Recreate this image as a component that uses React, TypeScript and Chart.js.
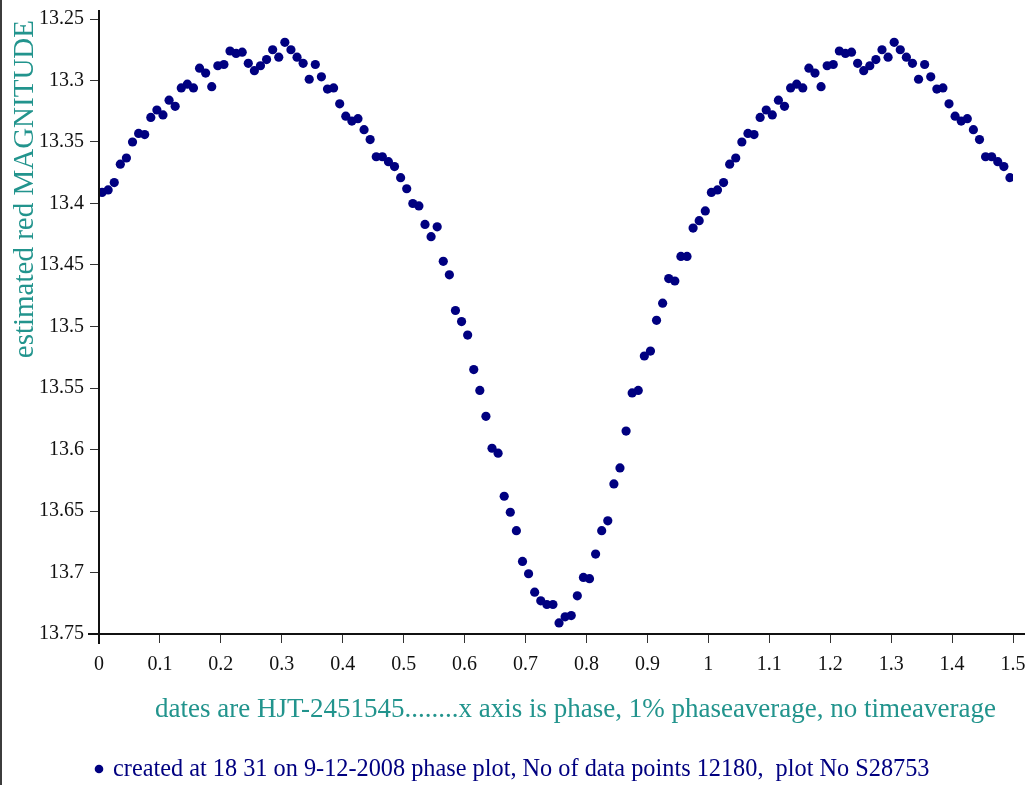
import React, { useEffect, useRef } from "react";
import { Chart, registerables } from "chart.js";

Chart.register(...registerables);

// Phase bin centres (1% phase average) for one full cycle
const PHASE = [
  0.005, 0.015, 0.025, 0.035, 0.045, 0.055, 0.065, 0.075, 0.085, 0.095,
  0.105, 0.115, 0.125, 0.135, 0.145, 0.155, 0.165, 0.175, 0.185, 0.195,
  0.205, 0.215, 0.225, 0.235, 0.245, 0.255, 0.265, 0.275, 0.285, 0.295,
  0.305, 0.315, 0.325, 0.335, 0.345, 0.355, 0.365, 0.375, 0.385, 0.395,
  0.405, 0.415, 0.425, 0.435, 0.445, 0.455, 0.465, 0.475, 0.485, 0.495,
  0.505, 0.515, 0.525, 0.535, 0.545, 0.555, 0.565, 0.575, 0.585, 0.595,
  0.605, 0.615, 0.625, 0.635, 0.645, 0.655, 0.665, 0.675, 0.685, 0.695,
  0.705, 0.715, 0.725, 0.735, 0.745, 0.755, 0.765, 0.775, 0.785, 0.795,
  0.805, 0.815, 0.825, 0.835, 0.845, 0.855, 0.865, 0.875, 0.885, 0.895,
  0.905, 0.915, 0.925, 0.935, 0.945, 0.955, 0.965, 0.975, 0.985, 0.995,
];

// Estimated red magnitude per phase bin
const MAGNITUDE = [
  13.391, 13.389, 13.383, 13.368, 13.363, 13.350, 13.343, 13.344, 13.330, 13.324,
  13.328, 13.316, 13.321, 13.306, 13.303, 13.306, 13.290, 13.294, 13.305, 13.288,
  13.287, 13.276, 13.278, 13.277, 13.286, 13.292, 13.288, 13.283, 13.275, 13.281,
  13.269, 13.275, 13.281, 13.286, 13.299, 13.287, 13.297, 13.307, 13.306, 13.319,
  13.329, 13.333, 13.331, 13.340, 13.348, 13.362, 13.362, 13.366, 13.370, 13.379,
  13.388, 13.400, 13.402, 13.417, 13.427, 13.419, 13.447, 13.458, 13.487, 13.496,
  13.507, 13.535, 13.552, 13.573, 13.599, 13.603, 13.638, 13.651, 13.666, 13.691,
  13.701, 13.716, 13.723, 13.726, 13.726, 13.741, 13.736, 13.735, 13.719, 13.704,
  13.705, 13.685, 13.666, 13.658, 13.628, 13.615, 13.585, 13.554, 13.552, 13.524,
  13.520, 13.495, 13.481, 13.461, 13.463, 13.443, 13.443, 13.420, 13.414, 13.406,
];

// The plot repeats the first half of the cycle from phase 1 to 1.5
const REPEAT_BINS = 50;

const Y_TITLE = "estimated red MAGNITUDE";
const X_NOTE = "dates are HJT-2451545........x axis is phase, 1% phaseaverage, no timeaverage";
const FOOTNOTE = "created at 18 31 on 9-12-2008 phase plot, No of data points 12180,  plot No S28753";

const TEAL = "#22948d";
const NAVY = "#000080";
const SERIF = "Liberation Serif, Times New Roman, serif";

Chart.defaults.font.family = SERIF;

const fmt = (v: number) => String(Number(Number(v).toFixed(2)));

export default function App() {
  const ref = useRef<HTMLCanvasElement | null>(null);

  useEffect(() => {
    if (!ref.current) return;
    const points = PHASE.map((p, i) => ({ x: p, y: MAGNITUDE[i] }));
    for (let i = 0; i < REPEAT_BINS; i++) {
      points.push({ x: PHASE[i] + 1, y: MAGNITUDE[i] });
    }

    const overlay = {
      id: "overlay",
      afterDraw(chart: any) {
        const ctx = chart.ctx as CanvasRenderingContext2D;
        const { left, right, top, bottom } = chart.chartArea;
        ctx.save();
        // left frame line
        ctx.fillStyle = "#3c3c3c";
        ctx.fillRect(0, 0, 2, chart.height);
        // axis lines
        ctx.strokeStyle = "#111";
        ctx.lineWidth = 2;
        ctx.beginPath();
        ctx.moveTo(left, top - 9);
        ctx.lineTo(left, bottom + 10);
        ctx.stroke();
        ctx.beginPath();
        ctx.moveTo(left - 11, bottom);
        ctx.lineTo(right + 12, bottom);
        ctx.stroke();
        // y title
        ctx.save();
        ctx.translate(33, 20);
        ctx.rotate(-Math.PI / 2);
        ctx.font = `29px ${SERIF}`;
        ctx.fillStyle = TEAL;
        ctx.textAlign = "right";
        ctx.textBaseline = "alphabetic";
        ctx.fillText(Y_TITLE, 0, 0);
        ctx.restore();
        // x note
        ctx.font = `27px ${SERIF}`;
        ctx.fillStyle = TEAL;
        ctx.textAlign = "left";
        ctx.textBaseline = "alphabetic";
        ctx.fillText(X_NOTE, 155, 717);
        // footnote with bullet
        ctx.fillStyle = NAVY;
        ctx.beginPath();
        ctx.arc(99, 769, 4.3, 0, Math.PI * 2);
        ctx.fill();
        ctx.font = `24.3px ${SERIF}`;
        ctx.fillText(FOOTNOTE, 113, 776);
        ctx.restore();
      },
    };

    const chart = new Chart(ref.current, {
      type: "scatter",
      data: {
        datasets: [
          {
            data: points,
            backgroundColor: NAVY,
            borderColor: NAVY,
            pointRadius: 4.6,
            pointBorderWidth: 0,
          },
        ],
      },
      options: {
        animation: false,
        responsive: false,
        devicePixelRatio: 1,
        layout: { padding: { top: 19, right: 17, left: 0, bottom: 0 } },
        plugins: { legend: { display: false }, tooltip: { enabled: false } },
        scales: {
          x: {
            type: "linear",
            min: 0,
            max: 1.5,
            afterFit: (s: any) => {
              s.height = 151;
              s.paddingLeft = 0;
              s.paddingRight = 0;
            },
            border: { display: false },
            grid: {
              drawOnChartArea: false,
              drawTicks: true,
              tickLength: 9,
              color: "#333",
              lineWidth: 1,
            },
            ticks: {
              stepSize: 0.1,
              padding: 10,
              color: "#111",
              font: { family: SERIF, size: 20 },
              maxRotation: 0,
              autoSkip: false,
              callback: (v: any) => fmt(v),
            },
          },
          y: {
            type: "linear",
            min: 13.25,
            max: 13.75,
            reverse: true,
            afterFit: (s: any) => {
              s.width = 99;
              s.paddingTop = 0;
              s.paddingBottom = 0;
            },
            border: { display: false },
            grid: {
              drawOnChartArea: false,
              drawTicks: true,
              tickLength: 9,
              color: "#333",
              lineWidth: 1,
            },
            ticks: {
              stepSize: 0.05,
              padding: 6,
              color: "#111",
              font: { family: SERIF, size: 20 },
              autoSkip: false,
              callback: (v: any) => fmt(v),
            },
          },
        },
      },
      plugins: [overlay],
    });
    return () => chart.destroy();
  }, []);

  return (
    <div style={{ position: "fixed", left: 0, top: 0, width: 1030, height: 785, background: "#fff" }}>
      <canvas ref={ref} width={1030} height={785} style={{ display: "block" }} />
    </div>
  );
}
